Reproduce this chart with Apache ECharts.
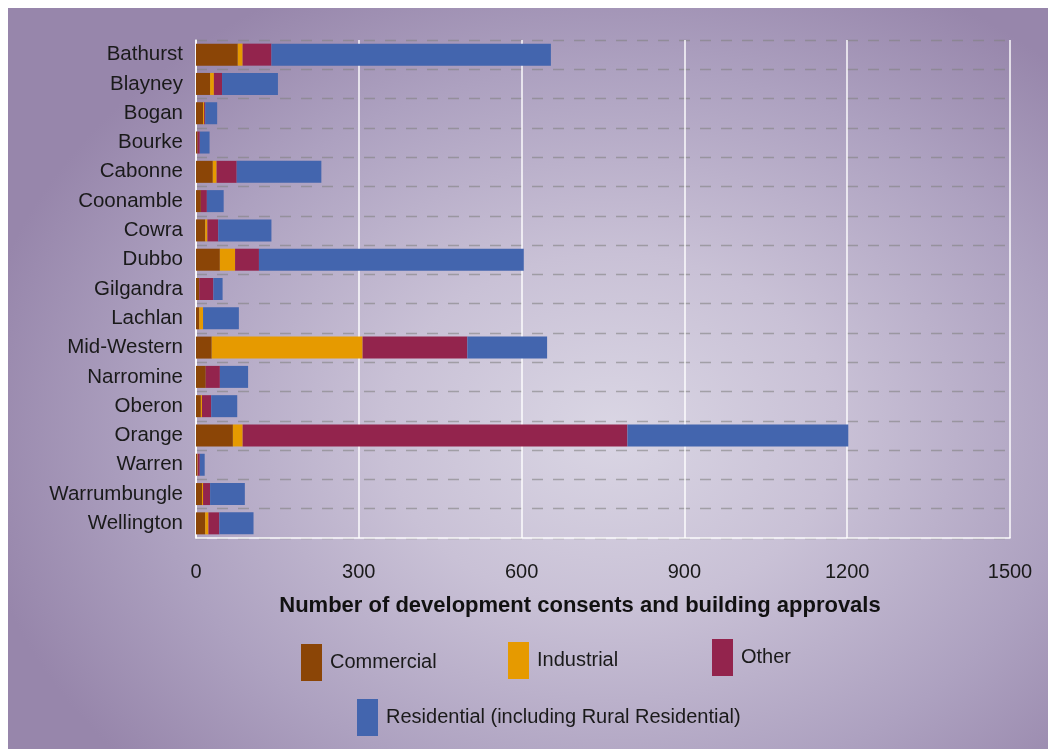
<!DOCTYPE html>
<html>
<head>
<meta charset="utf-8">
<script src="https://cdn.jsdelivr.net/npm/echarts@6/dist/echarts.min.js"></script>
<style>
  html, body { margin: 0; padding: 0; background: #ffffff; }
  #bg { position: absolute; left: 8px; top: 8px; width: 1040px; height: 741px;
        background: radial-gradient(ellipse 62% 68% at 58% 57%, #dad6e4 0%, #c9c1d6 35%, #ada1c0 72%, #9786ab 100%); }
  #chart { position: absolute; left: 0; top: 0; width: 1048px; height: 749px; }
</style>
</head>
<body>
<div id="bg"></div>
<div id="chart"></div>
<script>
const categories = ['Bathurst', 'Blayney', 'Bogan', 'Bourke', 'Cabonne', 'Coonamble', 'Cowra', 'Dubbo', 'Gilgandra', 'Lachlan', 'Mid-Western', 'Narromine', 'Oberon', 'Orange', 'Warren', 'Warrumbungle', 'Wellington'];
const commercial  = [77, 26, 13, 3, 31, 9, 17, 44, 6, 6, 29, 18, 9, 68, 2, 11, 17];
const industrial  = [9, 7, 2, 0, 7, 0, 4, 28, 0, 7, 278, 0, 2, 18, 1, 2, 6];
const other       = [53, 15, 2, 4, 37, 11, 20, 44, 26, 0, 193, 26, 17, 709, 4, 13, 20];
const residential = [515, 103, 22, 18, 156, 31, 98, 488, 17, 66, 147, 52, 48, 407, 9, 64, 63];
const xTicks = { min: 0, max: 1500, interval: 300 };
const seriesNames = ['Commercial', 'Industrial', 'Other', 'Residential (including Rural Residential)'];

const FONT = 'Liberation Sans, Arial, sans-serif';
const colors = ['#8b4506', '#e69a00', '#93244d', '#4365ae'];
const dataSets = [commercial, industrial, other, residential];

function legendAt(name, left, top) {
  return {
    data: [name], left: left, top: top, padding: 0, orient: 'horizontal',
    icon: 'rect', itemWidth: 21, itemHeight: 37,
    textStyle: { fontFamily: FONT, fontSize: 20, color: '#1a1a1a', padding: [9, 0, 0, 3] },
    selectedMode: false
  };
}

const chart = echarts.init(document.getElementById('chart'), null, { renderer: 'canvas' });
chart.setOption({
  backgroundColor: 'transparent',
  animation: false,
  color: colors,
  grid: { left: 196, right: 38, top: 40, bottom: 211, containLabel: false },
  legend: [
    legendAt(seriesNames[0], 301, 644),
    legendAt(seriesNames[1], 508, 642),
    legendAt(seriesNames[2], 712, 639),
    legendAt(seriesNames[3], 357, 699)
  ],
  xAxis: {
    type: 'value', min: xTicks.min, max: xTicks.max, interval: xTicks.interval,
    name: 'Number of development consents and building approvals',
    nameLocation: 'middle', nameGap: 57,
    nameTextStyle: { fontFamily: FONT, fontSize: 22, fontWeight: 'bold', color: '#111', padding: [0, 46, 0, 0] },
    axisLine: { show: true, lineStyle: { color: 'rgba(255,255,255,0.95)', width: 1.5 } },
    axisTick: { show: false },
    axisLabel: { fontFamily: FONT, fontSize: 20, color: '#1a1a1a', margin: 24, formatter: v => String(v) },
    splitLine: { show: true, lineStyle: { color: 'rgba(255,255,255,0.95)', width: 1.5 } }
  },
  yAxis: {
    type: 'category', data: categories, inverse: true,
    axisLine: { show: true, lineStyle: { color: 'rgba(255,255,255,0.95)', width: 1.5 } },
    axisTick: { show: false },
    axisLabel: { fontFamily: FONT, fontSize: 20.5, color: '#1a1a1a', margin: 13 },
    splitLine: { show: true, lineStyle: { color: 'rgba(130,130,130,0.6)', width: 1.4, type: [11, 10] } }
  },
  series: dataSets.map((d, i) => ({
    name: seriesNames[i], type: 'bar', stack: 'total', data: d,
    barWidth: 22, itemStyle: { color: colors[i] }, silent: true
  }))
});
</script>
</body>
</html>
